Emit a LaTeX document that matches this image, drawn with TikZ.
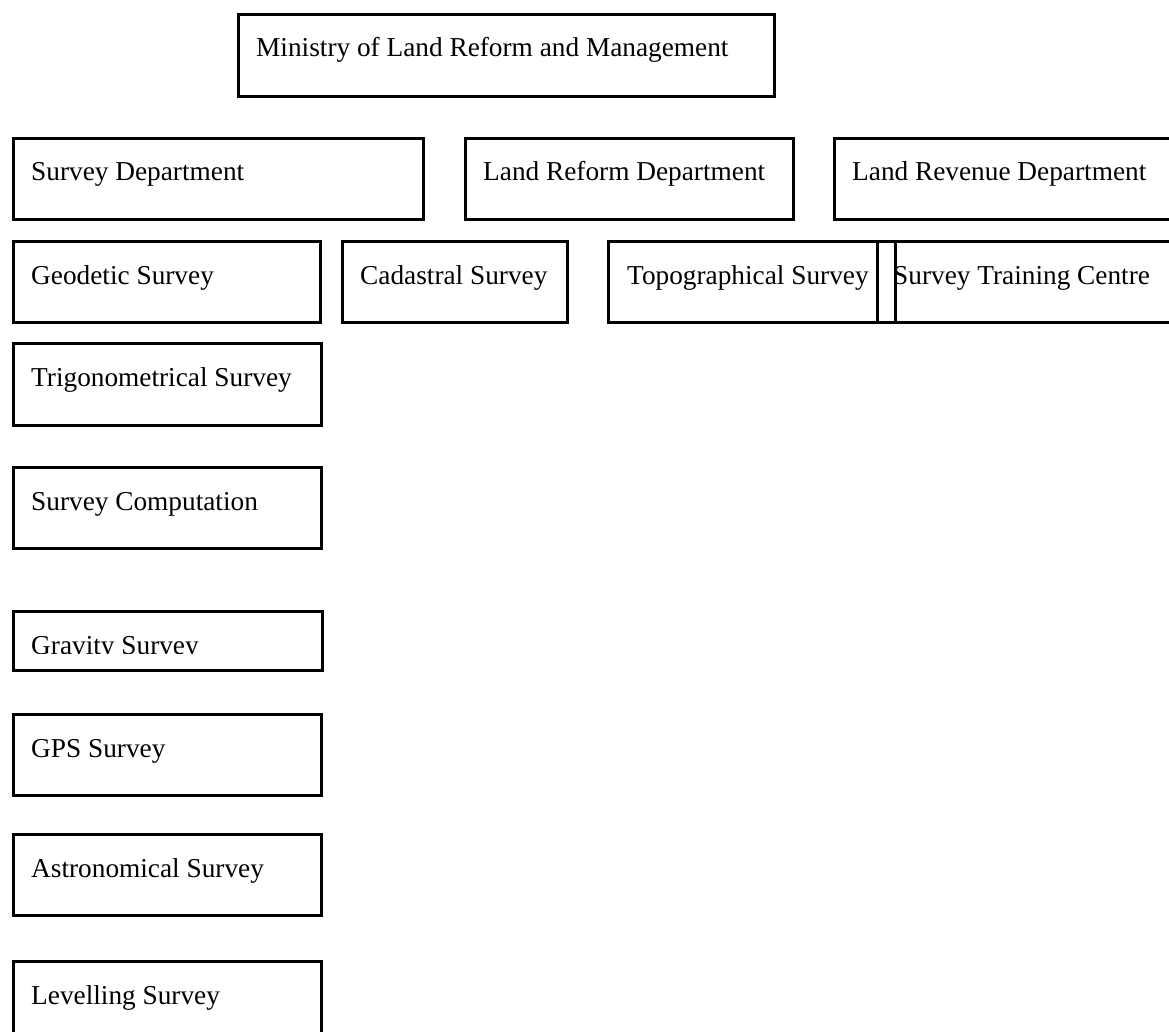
\documentclass[tikz,border=0pt]{standalone}
\usepackage{fontspec}
\setmainfont{Liberation Serif}
\begin{document}
\begin{tikzpicture}[x=1pt,y=-1pt,
  box/.style={draw=black,line width=2.8pt,inner sep=0pt,anchor=north west},
  lbl/.style={anchor=base west,inner sep=0pt,font=\fontsize{27.3}{32}\selectfont}]
\useasboundingbox (0,0) rectangle (1169,1032);
\clip (0,0) rectangle (1169,1032);
% boxes: name, x1, y1, x2, y2
\newcommand{\obox}[6]{%
  \node[box,minimum width=#4-#2,minimum height=#5-#3] (#1) at (#2,#3) {};
  \node[lbl] (#1-t) at (#2+19,#3+44) {#6};}
\obox{min}{237}{13}{773}{95}{Ministry of Land Reform and Management}
\obox{sd}{12}{137}{422}{218}{Survey Department}
\obox{lrf}{464}{137}{792}{218}{Land Reform Department}
\obox{lrv}{833}{137}{1180}{218}{Land Revenue Department}
\obox{geo}{12}{240}{319}{321}{Geodetic Survey}
\obox{cad}{341}{240}{566}{321}{Cadastral Survey}
\node[box,minimum width=287,minimum height=81] (topo) at (607,240) {};
\node[lbl] (topo-t) at (627,284) {Topographical Survey};
\node[box,minimum width=304,minimum height=81] (stc) at (876,240) {};
\node[lbl] (stc-t) at (893,284) {Survey Training Centre};
\obox{trig}{12}{342}{320}{424}{Trigonometrical Survey}
\obox{comp}{12}{466}{320}{547}{Survey Computation}
\node[box,minimum width=309,minimum height=59] (grav) at (12,610) {};
\begin{scope}
\clip (12,610) rectangle (321,653);
\node[lbl] (grav-t) at (31,654) {Gravity Survey};
\end{scope}
\obox{gps}{12}{713}{320}{794}{GPS Survey}
\obox{astro}{12}{833}{320}{914}{Astronomical Survey}
\obox{lev}{12}{960}{320}{1045}{Levelling Survey}
\end{tikzpicture}
\end{document}
